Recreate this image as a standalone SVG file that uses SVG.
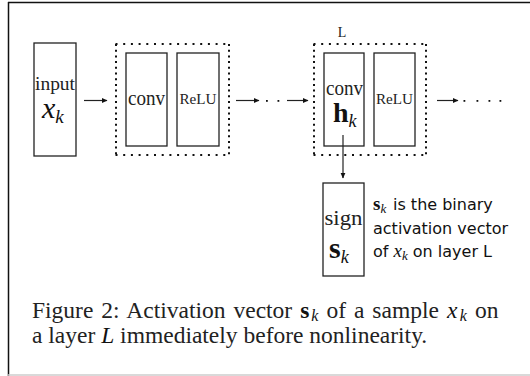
<svg xmlns="http://www.w3.org/2000/svg" width="530" height="376" viewBox="0 0 530 376">
<style>
.box{fill:none;stroke:#222;stroke-width:1.3}
.dh{stroke:#111;stroke-width:2;stroke-dasharray:2 5.7;fill:none}
.dv{stroke:#111;stroke-width:2;stroke-dasharray:2 3.7;fill:none}
.ln{stroke:#222;stroke-width:1.2;fill:none}
.rm{font-family:"Liberation Serif",serif;fill:#222}
.it{font-family:"Liberation Serif",serif;font-style:italic;fill:#111}
.bd{font-family:"Liberation Serif",serif;font-weight:bold;fill:#111}
.sa{font-family:"DejaVu Sans",sans-serif;fill:#111}
</style>
<defs>
<marker id="ah" markerWidth="6" markerHeight="6" refX="5" refY="3" orient="auto" markerUnits="userSpaceOnUse">
<path d="M0,0.6 L5.5,3 L0,5.4 Z" fill="#111"/>
</marker>
</defs>
<rect width="530" height="376" fill="#fff"/>
<g id="frame">
<line x1="8.5" y1="2" x2="8.5" y2="376" stroke="#111" stroke-width="1.5"/>
<line x1="8" y1="2.5" x2="530" y2="2.5" stroke="#111" stroke-width="1.5"/>
<line x1="8" y1="375" x2="530" y2="375" stroke="#ccc" stroke-width="1.5"/>
</g>
<g id="input">
<rect class="box" x="34" y="43" width="42" height="113"/>
<text class="rm" x="55" y="90" font-size="18" text-anchor="middle" textLength="40" lengthAdjust="spacingAndGlyphs">input</text>
<text class="it" x="42" y="118" font-size="30">x<tspan font-size="19" dy="5">k</tspan></text>
</g>
<g id="block1">
<path class="dh" d="M115.5,44 H230"/>
<path class="dh" d="M115.5,155 H230"/>
<path class="dv" d="M116,44 V156"/>
<path class="dv" d="M229,44 V156"/>
</g>
<g id="conv1">
<rect class="box" x="126" y="53" width="41" height="93"/>
<text class="rm" x="146.5" y="105" font-size="21" text-anchor="middle" textLength="37" lengthAdjust="spacingAndGlyphs">conv</text>
</g>
<g id="relu1">
<rect class="box" x="177" y="53" width="42" height="93"/>
<text class="rm" x="198" y="104" font-size="15" text-anchor="middle" textLength="37" lengthAdjust="spacingAndGlyphs">ReLU</text>
</g>
<g id="block2">
<path class="dh" d="M313.5,44 H427"/>
<path class="dh" d="M313.5,155 H427"/>
<path class="dv" d="M314,44 V156"/>
<path class="dv" d="M426,44 V156"/>
<text class="rm" x="342" y="37" font-size="14" text-anchor="middle">L</text>
</g>
<g id="conv2">
<rect class="box" x="324" y="53" width="40" height="93"/>
<text class="rm" x="344.5" y="95" font-size="21" text-anchor="middle" textLength="37" lengthAdjust="spacingAndGlyphs">conv</text>
<text class="bd" x="333" y="122" font-size="28">h<tspan class="it" font-weight="normal" font-size="18" dy="5">k</tspan></text>
</g>
<g id="relu2">
<rect class="box" x="374" y="53" width="41" height="93"/>
<text class="rm" x="394.5" y="104" font-size="15" text-anchor="middle" textLength="37" lengthAdjust="spacingAndGlyphs">ReLU</text>
</g>
<g id="sign">
<rect class="box" x="323" y="183" width="41" height="93"/>
<text class="rm" x="343.5" y="225" font-size="21" text-anchor="middle" textLength="38" lengthAdjust="spacingAndGlyphs">sign</text>
<text class="bd" x="329" y="258" font-size="30">s<tspan class="it" font-weight="normal" font-size="18" dy="5">k</tspan></text>
</g>
<g id="note">
<text class="sa" x="373" y="210" font-size="16"><tspan class="bd" font-size="19">s</tspan><tspan class="it" font-size="13" dy="3">k</tspan><tspan dy="-3" x="393">is the binary</tspan></text>
<text class="sa" x="373" y="234" font-size="16">activation vector</text>
<text class="sa" x="373" y="257" font-size="16">of <tspan class="it" font-size="19">x</tspan><tspan class="it" font-size="13" dy="3">k</tspan><tspan dy="-3"> on layer L</tspan></text>
</g>
<g id="connectors">
<line class="ln" x1="84" y1="100.5" x2="107" y2="100.5" marker-end="url(#ah)"/>
<line class="ln" x1="236" y1="100.5" x2="259" y2="100.5" marker-end="url(#ah)"/>
<line class="ln" x1="287" y1="100.5" x2="308" y2="100.5" marker-end="url(#ah)"/>
<line class="ln" x1="437" y1="100.5" x2="458" y2="100.5" marker-end="url(#ah)"/>
<line class="ln" x1="343" y1="135" x2="343" y2="178" marker-end="url(#ah)"/>
<g fill="#111">
<rect x="266" y="100" width="1.8" height="1.8"/>
<rect x="277.5" y="100" width="1.8" height="1.8"/>
<rect x="463.5" y="100" width="1.8" height="1.8"/>
<rect x="476.5" y="100" width="1.8" height="1.8"/>
<rect x="488.5" y="100" width="1.8" height="1.8"/>
<rect x="499.5" y="100" width="1.8" height="1.8"/>
</g>
</g>
<g id="caption">
<text class="rm" x="32" y="318" font-size="23.5" word-spacing="2.1">Figure 2: Activation vector <tspan class="bd">s</tspan><tspan class="it" font-size="16" dx="2" dy="3">k</tspan><tspan dy="-3"> of a sample </tspan><tspan class="it">x</tspan><tspan class="it" font-size="16" dx="2.5" dy="3">k</tspan><tspan dy="-3"> on</tspan></text>
<text class="rm" x="32" y="342.5" font-size="23.5">a layer <tspan class="it">L</tspan> immediately before nonlinearity.</text>
</g>
</svg>
